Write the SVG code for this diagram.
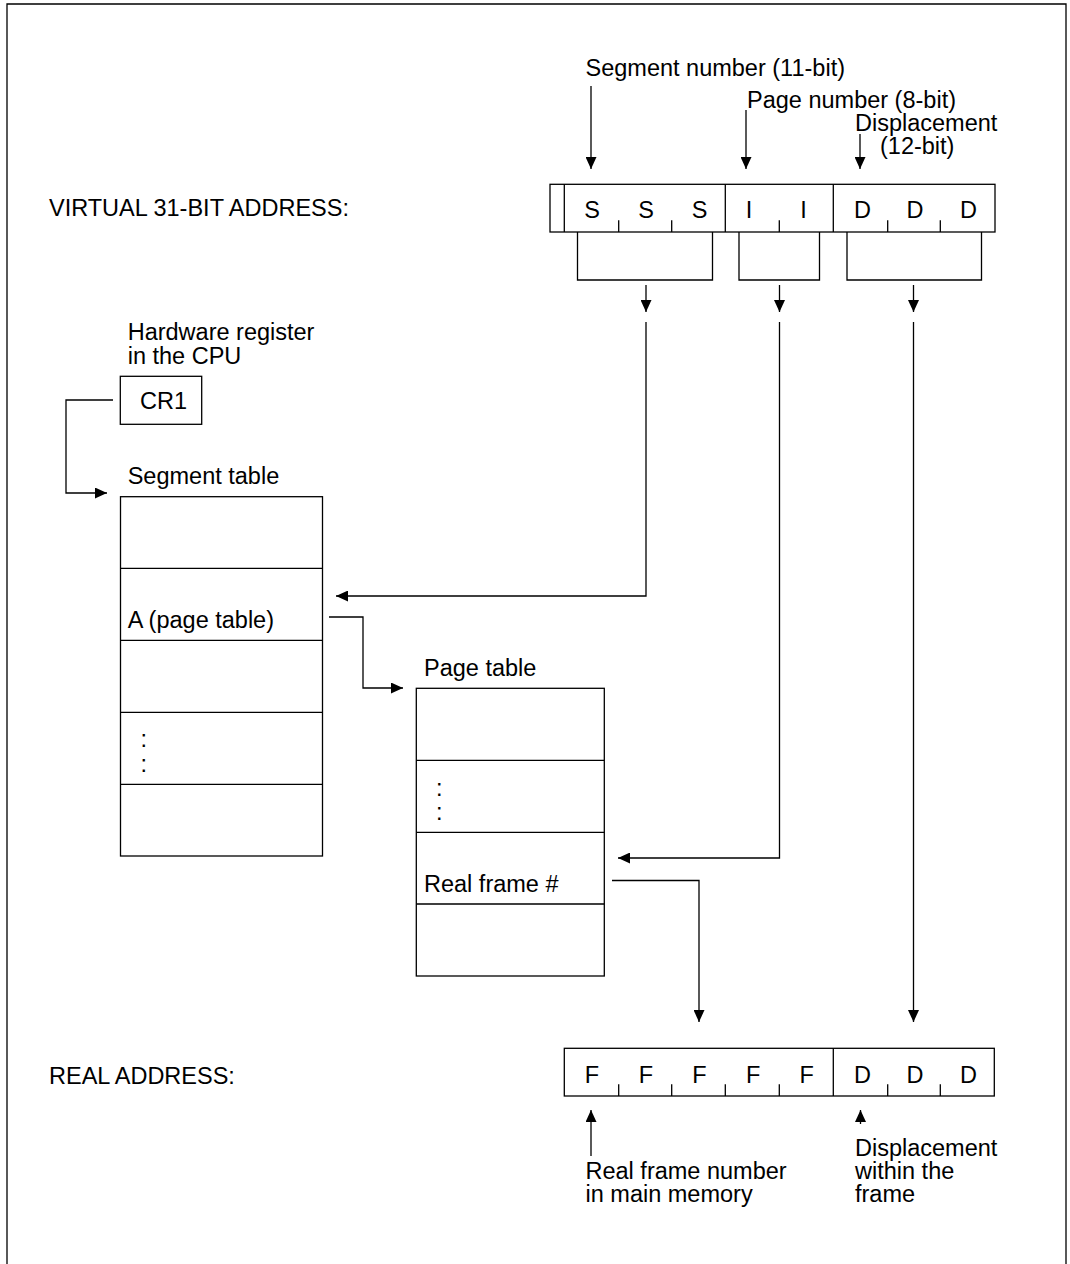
<svg xmlns="http://www.w3.org/2000/svg" width="1070" height="1264" viewBox="0 0 1070 1264">
<style>
text{font-family:"Liberation Sans",Arial,sans-serif;font-size:23.5px;fill:#000}
text.c{text-anchor:middle}
.s{fill:none;stroke:#000;stroke-width:1.3}
.b{fill:#fff;stroke:#000;stroke-width:1.3}
.a{fill:none;stroke:#000;stroke-width:1.3;marker-end:url(#ah)}
</style>
<defs>
<marker id="ah" markerUnits="userSpaceOnUse" markerWidth="12" markerHeight="11" refX="12" refY="5.5" orient="auto">
<path d="M0,0 L12,5.5 L0,11 Z" fill="#000"/>
</marker>
</defs>
<rect width="1070" height="1264" fill="#fff"/>
<path class="s" d="M7,1264 V4 H1066 V1264"/>

<g id="labels-top">
<text x="585.5" y="76">Segment number (11-bit)</text>
<text x="747" y="108">Page number (8-bit)</text>
<text x="855" y="131">Displacement</text>
<text x="880" y="154">(12-bit)</text>
<text x="49" y="216">VIRTUAL 31-BIT ADDRESS:</text>
</g>

<g id="virtual-address">
<rect class="b" x="550" y="184.3" width="445" height="47.7"/>
<path class="s" d="M564.3,184.3 V232 M725.3,184.3 V232 M833.3,184.3 V232 M618.7,220.3 V232 M671.7,220.3 V232 M779.3,220.3 V232 M887.7,220.3 V232 M940.3,220.3 V232"/>
<text class="c" x="592" y="218">S</text>
<text class="c" x="646" y="218">S</text>
<text class="c" x="699.5" y="218">S</text>
<text class="c" x="749" y="218">I</text>
<text class="c" x="803.5" y="218">I</text>
<text class="c" x="862.5" y="218">D</text>
<text class="c" x="915" y="218">D</text>
<text class="c" x="968.5" y="218">D</text>
</g>

<g id="brackets">
<path class="s" d="M577.5,232 V280 H712.5 V232"/>
<path class="s" d="M739,232 V280 H819.5 V232"/>
<path class="s" d="M847,232 V280 H981.5 V232"/>
</g>

<g id="cr1">
<text x="127.7" y="340">Hardware register</text>
<text x="127.7" y="363.5">in the CPU</text>
<rect class="b" x="120.3" y="376.3" width="81.4" height="48"/>
<text x="140" y="409.3">CR1</text>
</g>

<g id="segment-table">
<text x="127.7" y="484.3">Segment table</text>
<rect class="b" x="120.5" y="496.7" width="202" height="359.3"/>
<path class="s" d="M120.5,568.3 H322.5 M120.5,640.3 H322.5 M120.5,712.3 H322.5 M120.5,784.3 H322.5"/>
<text x="127.7" y="627.7">A (page table)</text>
<text x="140.5" y="747">:</text>
<text x="140.5" y="771.5">:</text>
</g>

<g id="page-table">
<text x="424" y="676">Page table</text>
<rect class="b" x="416.3" y="688.3" width="188" height="287.7"/>
<path class="s" d="M416.3,760.3 H604.3 M416.3,832.3 H604.3 M416.3,904 H604.3"/>
<text x="436" y="796.2">:</text>
<text x="436" y="819.5">:</text>
<text x="424" y="891.7">Real frame #</text>
</g>

<g id="real-address">
<text x="49" y="1084">REAL ADDRESS:</text>
<rect class="b" x="564.3" y="1048.3" width="430" height="47.7"/>
<path class="s" d="M833.3,1048.3 V1096 M618.7,1084.3 V1096 M671.7,1084.3 V1096 M725.3,1084.3 V1096 M779.3,1084.3 V1096 M887.7,1084.3 V1096 M940.3,1084.3 V1096"/>
<text class="c" x="592" y="1083">F</text>
<text class="c" x="646" y="1083">F</text>
<text class="c" x="699.5" y="1083">F</text>
<text class="c" x="753.3" y="1083">F</text>
<text class="c" x="806.7" y="1083">F</text>
<text class="c" x="862.5" y="1083">D</text>
<text class="c" x="915" y="1083">D</text>
<text class="c" x="968.5" y="1083">D</text>
</g>

<g id="labels-bottom">
<text x="585.5" y="1179">Real frame number</text>
<text x="585.5" y="1202">in main memory</text>
<text x="855" y="1156">Displacement</text>
<text x="855" y="1179">within the</text>
<text x="855" y="1202">frame</text>
</g>

<g id="connectors">
<path class="a" d="M591,86 V169"/>
<path class="a" d="M746,110 V169"/>
<path class="a" d="M860,134 V169"/>
<path class="a" d="M646,285 V312"/>
<path class="a" d="M779.5,285 V312"/>
<path class="a" d="M913.5,285 V312"/>
<path class="a" d="M646,322 V596 H336"/>
<path class="a" d="M779.5,322 V858 H618"/>
<path class="a" d="M913.5,322 V1022"/>
<path class="a" d="M113,400 H66 V493 H107"/>
<path class="a" d="M329,617 H363 V688 H403"/>
<path class="a" d="M612,880.5 H699 V1022"/>
<path class="a" d="M591,1156 V1110"/>
<path class="a" d="M860.5,1124 V1110"/>
</g>
</svg>
